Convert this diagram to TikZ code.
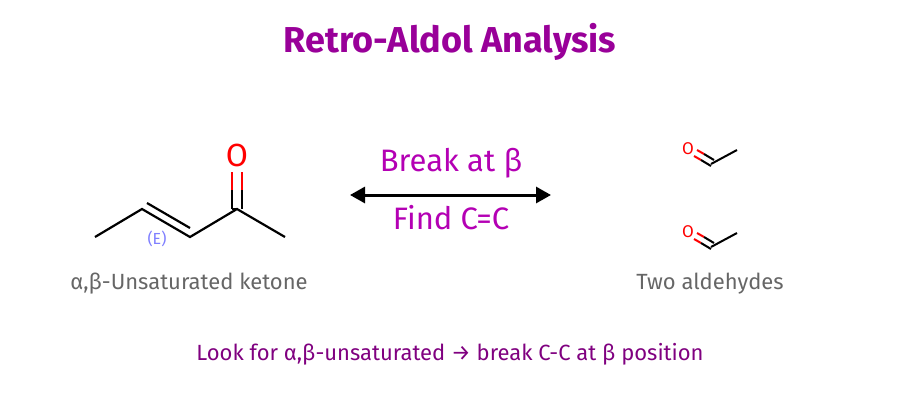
\documentclass[tikz,border=0pt]{standalone}
\usepackage{fontspec}
\setmainfont{Fira Sans}
\usetikzlibrary{arrows.meta}
\definecolor{ttl}{HTML}{990099}
\definecolor{arr}{HTML}{B400B4}
\definecolor{btm}{HTML}{800080}
\definecolor{gry}{HTML}{666666}
\definecolor{ez}{HTML}{7F7FFF}
\tikzset{bond/.style={line width=2.2pt,black},obond/.style={line width=2.2pt,red},
 lbl/.style={text=gry,font=\fontsize{22}{26}\selectfont}}
\begin{document}
\begin{tikzpicture}[x=1pt,y=-1pt]
\useasboundingbox[fill=white] (0,0) rectangle (900,400);
\node[text=ttl,font=\bfseries\fontsize{36}{40}\selectfont] (title) at (450,42) {Retro-Aldol Analysis};
% ketone
\coordinate (k1) at (95,237);
\coordinate (k2) at (142,209);
\coordinate (k3) at (190,237);
\coordinate (k4) at (237,209);
\coordinate (k5) at (285,237);
\node[text=red,font=\fontsize{32}{36}\selectfont,inner sep=0] (ko) at (237,155) {O};
\draw[bond] (k1)--(k2)--(k3)--(k4)--(k5);
\draw[bond] (147,203)--(190,228);
\draw[bond] (k4)--(232,209) (232,209)--(232,190);
\draw[bond] (242,209)--(242,190);
\draw[obond] (232,190)--(232,172) (242,190)--(242,172);
\node[text=ez,font=\fontsize{16}{18}\selectfont] (ez) at (157,239) {(E)};
\node[lbl] (kl) at (189,284) {α,β-Unsaturated ketone};
% arrow
\coordinate (a1) at (350,195);
\coordinate (a2) at (551,195);
\draw[line width=3pt,{Triangle[length=15pt,width=16pt]}-{Triangle[length=15pt,width=16pt]}] (a1)--(a2);
\node[text=arr,font=\fontsize{31}{35}\selectfont] (t1) at (451,163) {Break at β};
\node[text=arr,font=\fontsize{31}{35}\selectfont] (t2) at (451,218) {Find C=C};
% aldehydes
\foreach \dy/\n in {0/a,83/b}{
 \node[text=red,font=\fontsize{17}{19}\selectfont,inner sep=0] (o\n) at (688,149+\dy) {O};
 \draw[obond,line width=2pt] (697,150+\dy)--(704,154+\dy) (694,156+\dy)--(701,160+\dy);
 \draw[bond,line width=2pt] (704,154+\dy)--(714,160+\dy) (701,160+\dy)--(711,166+\dy);
 \draw[bond,line width=2pt] (711,164+\dy)--(737,150+\dy);
}
\node[lbl] (al) at (710,284) {Two aldehydes};
\node[text=btm,font=\fontsize{22}{26}\selectfont] (bt) at (450,354) {Look for α,β-unsaturated → break C-C at β position};
\end{tikzpicture}
\end{document}
